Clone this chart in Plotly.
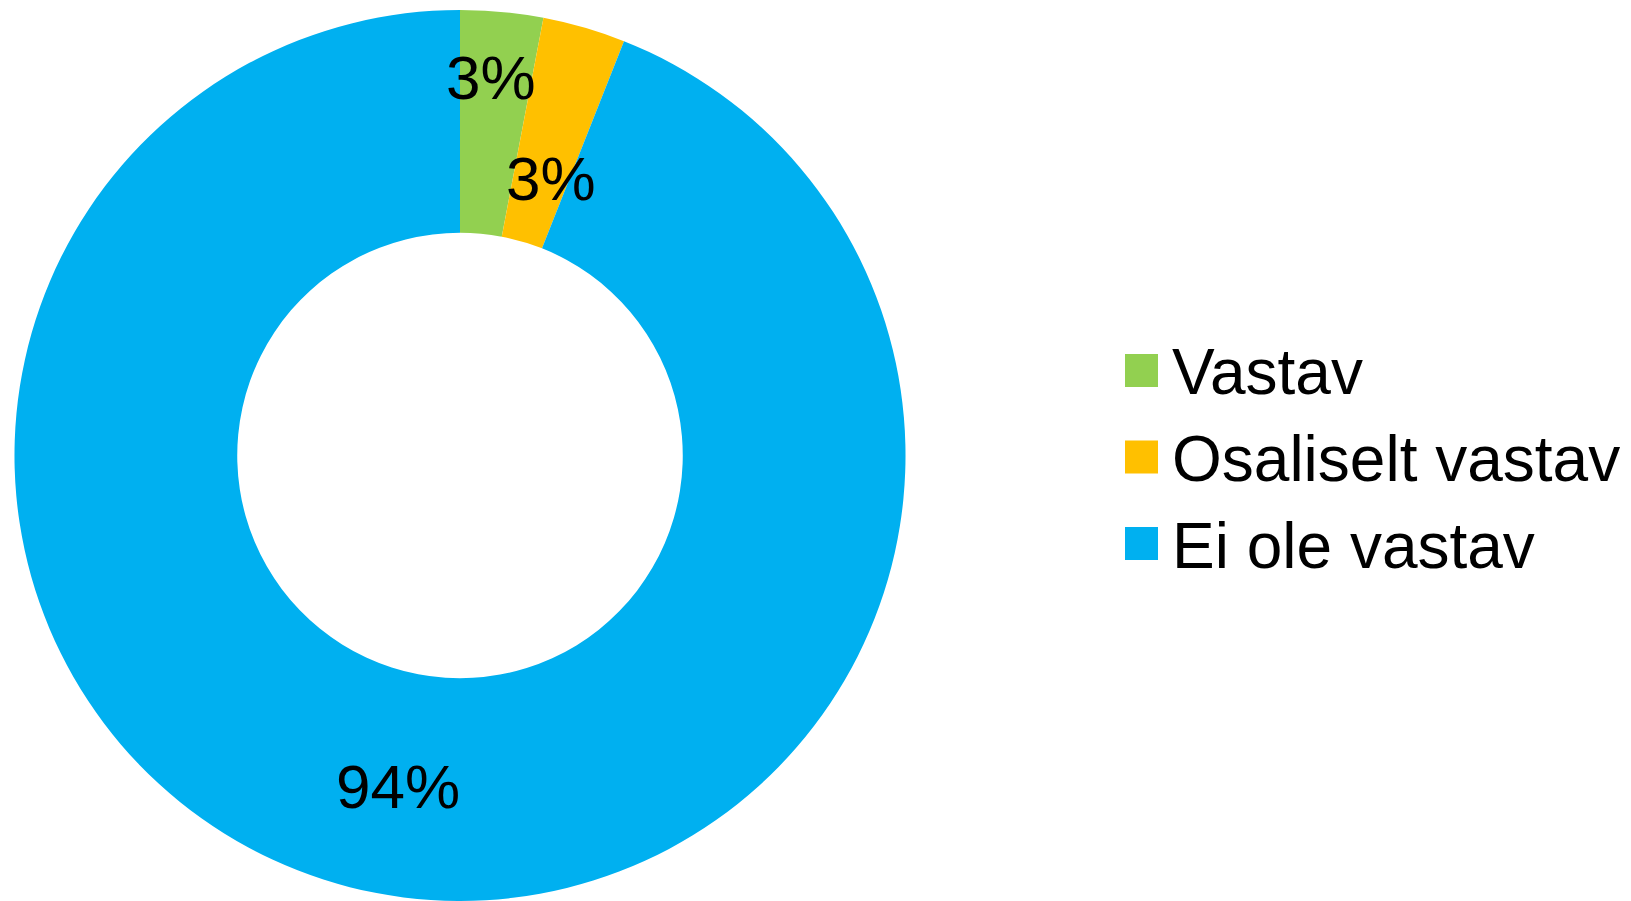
import math
import plotly.graph_objects as go

# Data
categories = ['Vastav', 'Osaliselt vastav', 'Ei ole vastav']
shares = [3, 3, 94]
colors = ['#92D050', '#FFC000', '#00B0F0']

# where each percentage label sits: fraction of outer radius, and a small
# angular nudge (degrees) from the slice's middle angle
label_radius = [0.852, 0.655, 0.756]
label_nudge = [-0.7, 2.0, -0.2]

FONT = 'Liberation Sans, Arial, sans-serif'
W, H = 1623, 893          # page body has an 8px margin in the 1631x901 window

# pie geometry in figure pixels
dom_x = [5 / W, 899 / W]
dom_y = [0.0, 0.9978]
cx = (dom_x[0] + dom_x[1]) / 2 * W
cy_up = (dom_y[0] + dom_y[1]) / 2 * H
R = min((dom_x[1] - dom_x[0]) * W, (dom_y[1] - dom_y[0]) * H) / 2

fig = go.Figure()

fig.add_trace(go.Pie(
    labels=categories,
    values=shares,
    hole=0.5,
    sort=False,
    direction='clockwise',
    rotation=0,
    marker=dict(colors=colors, line=dict(width=0)),
    textinfo='none',
    domain=dict(x=dom_x, y=dom_y),
    showlegend=False,
    hoverinfo='label+percent',
))

annotations = []

# percentage labels, placed around the middle angle of each slice
total = sum(shares)
start = 0.0
for val, rf, nudge in zip(shares, label_radius, label_nudge):
    mid = (start + val / 2) / total * 2 * math.pi + math.radians(nudge)
    start += val
    px = cx + rf * R * math.sin(mid)
    py = cy_up + rf * R * math.cos(mid)
    annotations.append(dict(
        text=f'{round(val / total * 100)}%', xref='paper', yref='paper',
        x=px / W, y=py / H, xanchor='center', yanchor='middle',
        showarrow=False, font=dict(family=FONT, size=62, color='black'),
    ))

# legend drawn by hand so the colour squares can match the large text
legend_x = 1117 / W
legend_y0 = 1 - 362.5 / H
legend_step = 86.5 / H
sq_w = 33 / W
sq_h = 33 / H
shapes = []
for i, (name, col) in enumerate(zip(categories, colors)):
    yc = legend_y0 - i * legend_step
    shapes.append(dict(
        type='rect', xref='paper', yref='paper',
        x0=legend_x, x1=legend_x + sq_w,
        y0=yc - sq_h / 2, y1=yc + sq_h / 2,
        fillcolor=col, line=dict(width=0),
    ))
    annotations.append(dict(
        text=name, xref='paper', yref='paper',
        x=legend_x + sq_w + 12 / W, y=yc - 2 / H,
        xanchor='left', yanchor='middle', showarrow=False,
        font=dict(family=FONT, size=64, color='black'),
    ))

fig.update_layout(
    width=W,
    height=H,
    margin=dict(l=0, r=0, t=0, b=0),
    paper_bgcolor='white',
    plot_bgcolor='white',
    shapes=shapes,
    annotations=annotations,
)

fig.write_html("out.html")
